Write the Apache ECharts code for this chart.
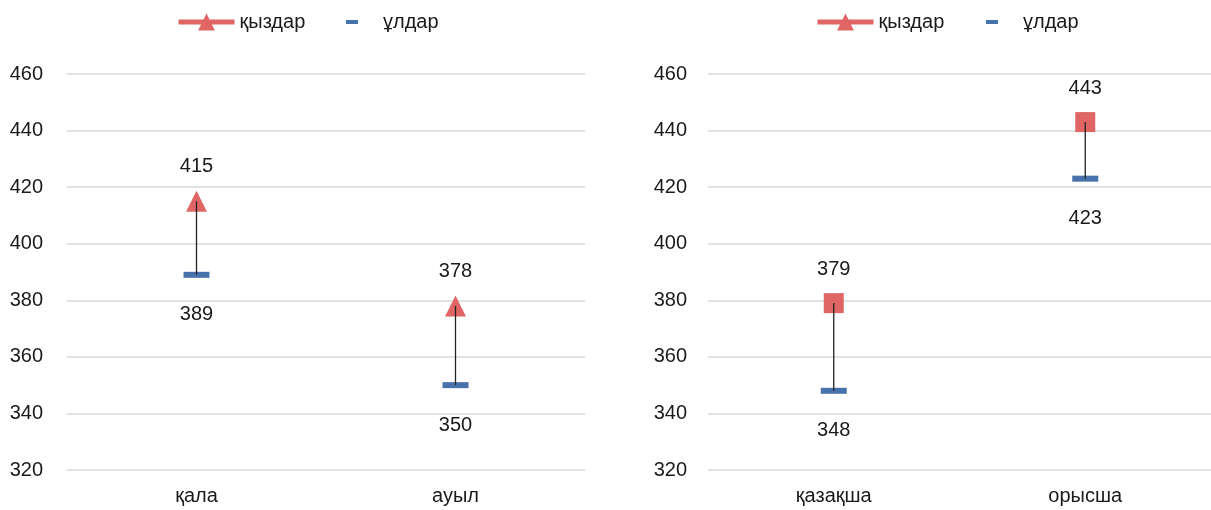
<!DOCTYPE html>
<html>
<head>
<meta charset="utf-8">
<script src="https://cdn.jsdelivr.net/npm/echarts@6/dist/echarts.min.js"></script>
<style>
html,body{margin:0;padding:0;background:#fff;}
#chart{width:1211px;height:510px;}
</style>
</head>
<body>
<div id="chart"></div>
<script>
// ---- data ----
const categoriesA = ['қала', 'ауыл'];
const girlsA = [415, 378];
const boysA = [389, 350];

const categoriesB = ['қазақша', 'орысша'];
const girlsB = [379, 443];
const boysB = [348, 423];

const girlsName = 'қыздар';
const boysName = 'ұлдар';
const yTicks = { min: 320, max: 460, interval: 20 };

// ---- styles ----
const FONT = "'Liberation Sans', Arial, 'DejaVu Sans', sans-serif";
const FS = 20;
const RED = '#E06666';
const BLUE = '#4772AB';
const TXT = '#1a1a1a';
const GRIDC = '#d9d9d9';

const chart = echarts.init(document.getElementById('chart'), null, { renderer: 'canvas' });

function xAxis(gi, cats) {
  return {
    type: 'category', gridIndex: gi, data: cats,
    axisLine: { show: false }, axisTick: { show: false },
    axisLabel: { fontFamily: FONT, fontSize: FS, color: TXT, margin: 16 }
  };
}
function yAxis(gi, margin) {
  return {
    type: 'value', gridIndex: gi, min: yTicks.min, max: yTicks.max, interval: yTicks.interval,
    axisLine: { show: false }, axisTick: { show: false },
    axisLabel: { fontFamily: FONT, fontSize: FS, color: TXT, margin: margin },
    splitLine: { lineStyle: { color: GRIDC, width: 1.5 } }
  };
}
function seriesFor(gi, cats, girls, boys, symbol, symSize) {
  return [
    {
      type: 'custom', xAxisIndex: gi, yAxisIndex: gi, z: 5,
      data: cats.map((c, i) => [i, boys[i], girls[i]]),
      renderItem: function (params, api) {
        const p1 = api.coord([api.value(0), api.value(2)]);
        const p2 = api.coord([api.value(0), api.value(1)]);
        return { type: 'line', shape: { x1: p1[0], y1: p1[1], x2: p2[0], y2: p2[1] },
                 style: { stroke: '#222', lineWidth: 1.3 } };
      },
      silent: true
    },
    {
      name: girlsName, type: 'line', xAxisIndex: gi, yAxisIndex: gi, z: 3,
      data: girls, symbol: symbol, symbolSize: symSize,
      itemStyle: { color: RED, opacity: 1 },
      lineStyle: { opacity: 0, width: 5, color: RED },
      label: { show: true, position: 'top', distance: 14, fontFamily: FONT, fontSize: FS, color: TXT }
    },
    {
      name: boysName, type: 'line', xAxisIndex: gi, yAxisIndex: gi, z: 3,
      data: boys, symbol: 'rect', symbolSize: [26, 6],
      itemStyle: { color: BLUE },
      lineStyle: { opacity: 0 },
      label: { show: true, position: 'bottom', distance: 27, fontFamily: FONT, fontSize: FS, color: TXT }
    }
  ];
}
function legends(girlsLeft, boysLeft) {
  return [
    {
      left: girlsLeft, top: 12, padding: 0, itemWidth: 56, itemHeight: 21,
      data: [girlsName], selectedMode: false,
      lineStyle: { opacity: 1, width: 5, color: RED },
      textStyle: { fontFamily: FONT, fontSize: FS, color: TXT }
    },
    {
      left: boysLeft, top: 12, padding: 0, itemWidth: 12, itemHeight: 4,
      data: [{ name: boysName, icon: 'rect' }], selectedMode: false,
      textStyle: { fontFamily: FONT, fontSize: FS, color: TXT, padding: [0, 0, 0, 20] }
    }
  ];
}

const option = {
  animation: false,
  backgroundColor: '#fff',
  grid: [
    { left: 67, top: 74, width: 518, height: 396 },
    { left: 708, top: 74, width: 514, height: 396 }
  ],
  xAxis: [xAxis(0, categoriesA), xAxis(1, categoriesB)],
  yAxis: [yAxis(0, 24), yAxis(1, 21)],
  legend: [].concat(legends(176, 346), legends(815, 986)),
  series: [].concat(
    seriesFor(0, categoriesA, girlsA, boysA, 'triangle', 21),
    seriesFor(1, categoriesB, girlsB, boysB, 'rect', 20)
  )
};
chart.setOption(option);
</script>
</body>
</html>
